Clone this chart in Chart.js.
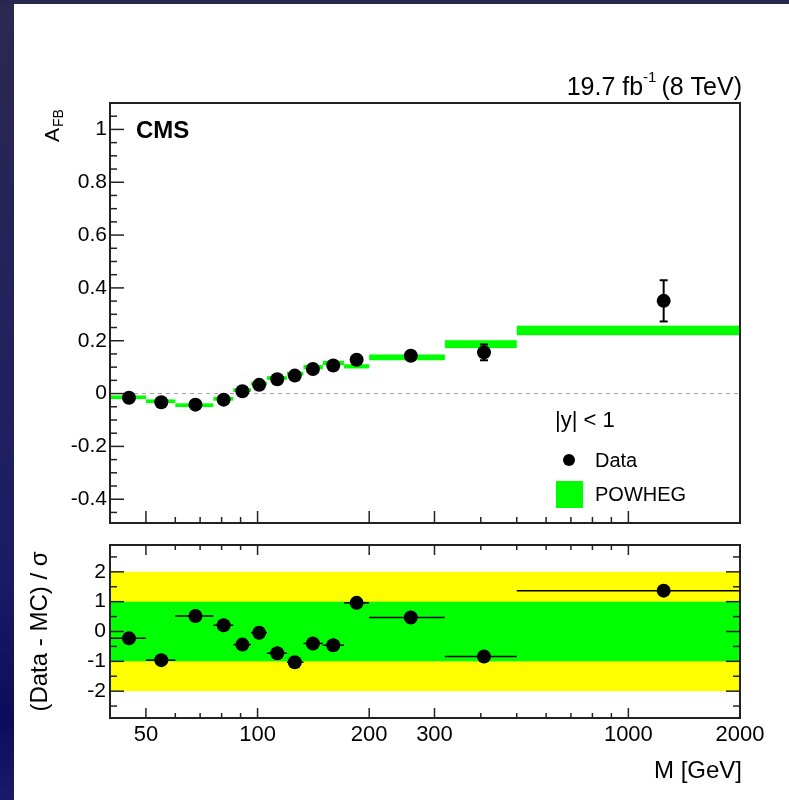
<!DOCTYPE html>
<html>
<head>
<meta charset="utf-8">
<script src="https://cdn.jsdelivr.net/npm/chart.js@4.4.0/dist/chart.umd.min.js"></script>
<style>
  body { margin:0; width:789px; height:800px; background:#fff; position:relative; overflow:hidden; }
  #slideLeft { position:absolute; left:0; top:0; width:14px; height:800px; background:linear-gradient(#2a2950, #1c1c66 70%, #0c0c5c 90%, #1a1a6a); }
  #slideTop { position:absolute; left:0; top:0; width:789px; height:4px; background:#28284e; }
</style>
</head>
<body>
<div id="slideLeft"></div>
<div id="slideTop"></div>
<canvas id="afbChart" width="789" height="535"></canvas>
<canvas id="pullChart" width="789" height="265"></canvas>
<script>
// mass bins [GeV]
var massLo  = [40, 50, 60, 76, 86, 96, 106, 120, 133, 150, 171, 200, 320, 500];
var massHi  = [50, 60, 76, 86, 96, 106, 120, 133, 150, 171, 200, 320, 500, 2000];
var massPts = [45, 55, 68, 81, 91, 101, 113, 126, 141, 160, 185, 259, 408, 1245];

// A_FB data and POWHEG prediction
var afbData  = [-0.016, -0.033, -0.042, -0.023, 0.009, 0.033, 0.054, 0.068, 0.093, 0.106, 0.128, 0.143, 0.156, 0.351];
var afbErr   = [0.006, 0.006, 0.006, 0.006, 0.006, 0.006, 0.006, 0.007, 0.008, 0.009, 0.010, 0.014, 0.030, 0.078];
var afbMC    = [-0.014, -0.029, -0.044, -0.020, 0.013, 0.038, 0.059, 0.076, 0.100, 0.116, 0.103, 0.137, 0.187, 0.239];
var afbMCErr = [0.007, 0.007, 0.007, 0.007, 0.007, 0.007, 0.007, 0.007, 0.008, 0.008, 0.008, 0.011, 0.015, 0.018];

// (Data - MC) / sigma
var pullData = [-0.23, -0.96, 0.52, 0.21, -0.44, -0.04, -0.73, -1.03, -0.40, -0.46, 0.96, 0.47, -0.84, 1.37];

// ticks
var massTicks = [50, 100, 200, 300, 1000, 2000];
var massMinor = [40, 60, 70, 80, 90, 400, 500, 600, 700, 800, 900];
var afbTicks  = [-0.4, -0.2, 0, 0.2, 0.4, 0.6, 0.8, 1];
var pullTicks = [-2, -1, 0, 1, 2];

var FONT = '"Liberation Sans", Arial, Helvetica, sans-serif';

function line(ctx, x1, y1, x2, y2) {
  ctx.beginPath(); ctx.moveTo(x1, y1); ctx.lineTo(x2, y2); ctx.stroke();
}
function text(ctx, s, x, y, size, align, bold) {
  ctx.font = (bold ? 'bold ' : '') + size + 'px ' + FONT;
  ctx.textAlign = align || 'left';
  ctx.textBaseline = 'middle';
  ctx.fillStyle = '#000';
  ctx.fillText(s, x, y);
}

function drawXTicks(ctx, xs, a, both, majLen, minLen) {
  ctx.strokeStyle = '#222'; ctx.lineWidth = 1.5;
  massTicks.concat(massMinor).forEach(function (v, i) {
    var len = i < massTicks.length ? majLen : minLen;
    var px = xs.getPixelForValue(v);
    line(ctx, px, a.bottom, px, a.bottom - len);
    if (both) line(ctx, px, a.top, px, a.top + len);
  });
}

function drawYTicks(ctx, ys, a, majors, step, both, majLen, minLen) {
  ctx.strokeStyle = '#222'; ctx.lineWidth = 1.5;
  var n0 = Math.ceil(ys.min / step), n1 = Math.floor(ys.max / step);
  for (var n = n0; n <= n1; n++) {
    var v = n * step;
    var isMaj = majors.some(function (m) { return Math.abs(m - v) < 1e-6; });
    var len = isMaj ? majLen : minLen;
    var py = ys.getPixelForValue(v);
    line(ctx, a.left, py, a.left + len, py);
    if (both) line(ctx, a.right, py, a.right - len, py);
  }
}

function frame(ctx, a) {
  ctx.strokeStyle = '#222'; ctx.lineWidth = 2;
  ctx.strokeRect(a.left, a.top, a.right - a.left, a.bottom - a.top);
}

var afbPanel = {
  id: 'afbPanel',
  beforeDatasetsDraw: function (chart) {
    var ctx = chart.ctx, xs = chart.scales.x, ys = chart.scales.y, a = chart.chartArea;
    ctx.save();
    // zero line
    ctx.setLineDash([4, 4]); ctx.strokeStyle = '#a0a0a0'; ctx.lineWidth = 1;
    line(ctx, a.left, ys.getPixelForValue(0), a.right, ys.getPixelForValue(0));
    ctx.setLineDash([]);
    // POWHEG bands
    ctx.fillStyle = '#00ff00';
    for (var i = 0; i < massLo.length; i++) {
      var x0 = xs.getPixelForValue(massLo[i]), x1 = xs.getPixelForValue(massHi[i]);
      var y0 = ys.getPixelForValue(afbMC[i] + afbMCErr[i]), y1 = ys.getPixelForValue(afbMC[i] - afbMCErr[i]);
      ctx.fillRect(x0, y0, x1 - x0, y1 - y0);
    }
    // data error bars
    ctx.strokeStyle = '#000'; ctx.lineWidth = 2;
    for (var j = 0; j < massPts.length; j++) {
      var px = xs.getPixelForValue(massPts[j]);
      var ya = ys.getPixelForValue(afbData[j] + afbErr[j]), yb = ys.getPixelForValue(afbData[j] - afbErr[j]);
      line(ctx, px, ya, px, yb);
      line(ctx, px - 4, ya, px + 4, ya);
      line(ctx, px - 4, yb, px + 4, yb);
    }
    ctx.restore();
  },
  afterDraw: function (chart) {
    var ctx = chart.ctx, xs = chart.scales.x, ys = chart.scales.y, a = chart.chartArea;
    ctx.save();
    frame(ctx, a);
    drawXTicks(ctx, xs, a, false, 12, 6);
    drawYTicks(ctx, ys, a, afbTicks, 0.05, false, 14, 7);
    afbTicks.forEach(function (v) {
      text(ctx, v === 0 ? '0' : String(v), a.left - 3, ys.getPixelForValue(v), 21, 'right');
    });
    // axis title A_FB (rotated)
    ctx.save();
    ctx.translate(53, 142); ctx.rotate(-Math.PI / 2);
    text(ctx, 'A', 0, 0, 21, 'left');
    text(ctx, 'FB', 15, 6, 14, 'left');
    ctx.restore();
    // CMS label
    text(ctx, 'CMS', 136, 131, 24, 'left', true);
    // luminosity label
    var r = 742, base = 88;
    ctx.font = '25px ' + FONT;
    var w2 = ctx.measureText('(8 TeV)').width;
    text(ctx, '(8 TeV)', r, base, 25, 'right');
    ctx.font = '15px ' + FONT;
    var w1 = ctx.measureText('-1').width;
    text(ctx, '-1', r - w2 - 5, base - 10, 15, 'right');
    text(ctx, '19.7 fb', r - w2 - 5 - w1, base, 25, 'right');
    // legend
    text(ctx, '|y| < 1', 555, 421, 22, 'left');
    ctx.fillStyle = '#000';
    ctx.beginPath(); ctx.arc(569, 460, 6, 0, Math.PI * 2); ctx.fill();
    text(ctx, 'Data', 595, 461, 20, 'left');
    ctx.fillStyle = '#00ff00';
    ctx.fillRect(556, 481, 27, 27);
    text(ctx, 'POWHEG', 595, 495, 20, 'left');
    ctx.restore();
  }
};

var pullPanel = {
  id: 'pullPanel',
  beforeDatasetsDraw: function (chart) {
    var ctx = chart.ctx, xs = chart.scales.x, ys = chart.scales.y, a = chart.chartArea;
    ctx.save();
    ctx.fillStyle = '#ffff00';
    ctx.fillRect(a.left, ys.getPixelForValue(2), a.right - a.left, ys.getPixelForValue(-2) - ys.getPixelForValue(2));
    ctx.fillStyle = '#00ff00';
    ctx.fillRect(a.left, ys.getPixelForValue(1), a.right - a.left, ys.getPixelForValue(-1) - ys.getPixelForValue(1));
    ctx.strokeStyle = '#000'; ctx.lineWidth = 1.5;
    for (var i = 0; i < massPts.length; i++) {
      var py = ys.getPixelForValue(pullData[i]);
      line(ctx, xs.getPixelForValue(massLo[i]), py, xs.getPixelForValue(massHi[i]), py);
    }
    ctx.restore();
  },
  afterDraw: function (chart) {
    var ctx = chart.ctx, xs = chart.scales.x, ys = chart.scales.y, a = chart.chartArea;
    ctx.save();
    frame(ctx, a);
    drawXTicks(ctx, xs, a, true, 10, 5);
    drawYTicks(ctx, ys, a, pullTicks, 0.5, true, 14, 7);
    pullTicks.forEach(function (v) {
      text(ctx, String(v), a.left - 4, ys.getPixelForValue(v), 21, 'right');
    });
    massTicks.forEach(function (v) {
      text(ctx, String(v), xs.getPixelForValue(v), a.bottom + 17, 22, 'center');
    });
    text(ctx, 'M [GeV]', a.right + 2, a.bottom + 53, 24, 'right');
    ctx.save();
    ctx.translate(40, (a.top + a.bottom) / 2); ctx.rotate(-Math.PI / 2);
    text(ctx, '(Data - MC) / σ', 0, 0, 24, 'center');
    ctx.restore();
    ctx.restore();
  }
};

function points(ys) {
  return massPts.map(function (m, i) { return { x: m, y: ys[i] }; });
}

var common = {
  responsive: false,
  animation: false,
  plugins: { legend: { display: false }, tooltip: { enabled: false } }
};

new Chart(document.getElementById('afbChart').getContext('2d'), {
  type: 'scatter',
  data: { datasets: [{ label: 'Data', data: points(afbData), pointRadius: 7, pointBackgroundColor: '#000', pointBorderWidth: 0 }] },
  options: Object.assign({}, common, {
    layout: { padding: { left: 110, right: 49, top: 103, bottom: 12 } },
    scales: {
      x: { type: 'logarithmic', min: 40, max: 2000, display: false },
      y: { type: 'linear', min: -0.49, max: 1.1, display: false }
    }
  }),
  plugins: [afbPanel]
});

new Chart(document.getElementById('pullChart').getContext('2d'), {
  type: 'scatter',
  data: { datasets: [{ label: 'Pull', data: points(pullData), pointRadius: 7, pointBackgroundColor: '#000', pointBorderWidth: 0 }] },
  options: Object.assign({}, common, {
    layout: { padding: { left: 110, right: 49, top: 10, bottom: 82 } },
    scales: {
      x: { type: 'logarithmic', min: 40, max: 2000, display: false },
      y: { type: 'linear', min: -2.9, max: 2.9, display: false }
    }
  }),
  plugins: [pullPanel]
});
</script>
</body>
</html>
